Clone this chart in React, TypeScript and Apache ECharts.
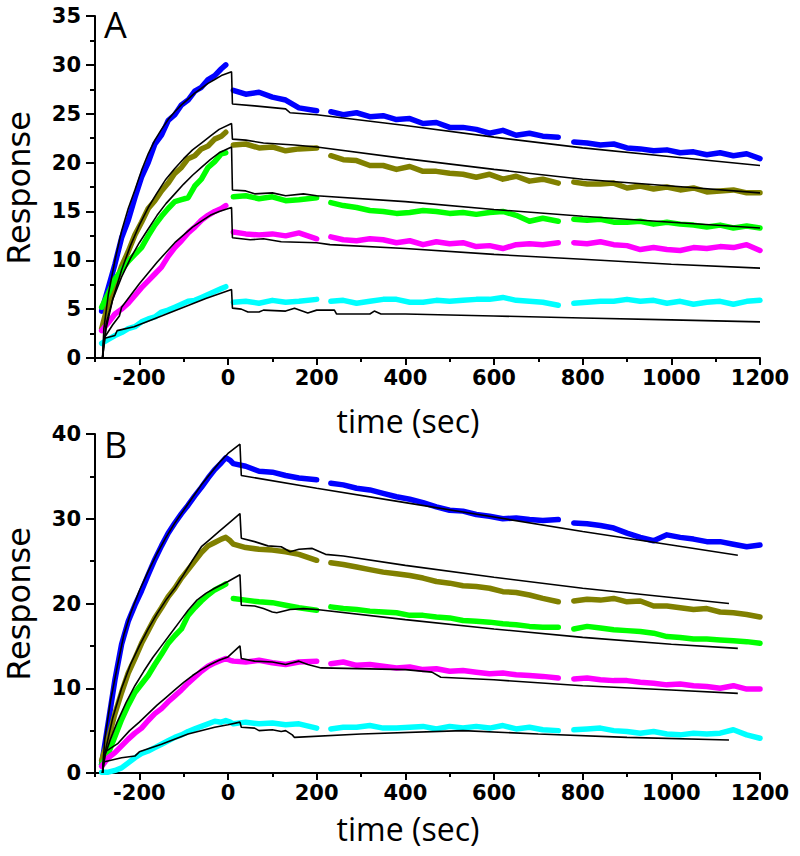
import React, { useEffect, useRef } from "react";
import * as echarts from "echarts";

// ---------- shared sample times (s); null values mark gaps in the recording ----------
const TIMES = [
  -285, -270, -255, -240, -225, -210, -195, -180, -165, -150, -135, -120, -105, -90, -75, -60, -45, -30, -15, -5,
  5,
  12, 40, 70, 100, 130, 160, 200,
  215,
  232, 260, 290, 320, 350, 380, 410, 440, 470, 500, 530, 560, 590, 620, 650, 680, 710, 745,
  762,
  780, 810, 840, 870, 900, 930, 960, 990, 1020, 1050, 1080, 1110, 1140, 1170, 1200,
];

// ---------- Panel A measured responses ----------
const blueA = [4.8, 7.2, 9.6, 12.3, 14.1, 16.4, 18.5, 20.0, 21.9, 22.8, 24.3, 24.9, 25.9, 26.4, 27.3, 27.7, 28.5, 28.9, 29.6, 30.0, null,
  27.4, 27.0, 27.2, 26.7, 26.4, 25.6, 25.3, null,
  25.2, 24.9, 25.1, 24.7, 24.8, 24.4, 24.5, 24.0, 24.1, 23.6, 23.6, 23.4, 23.0, 23.3, 22.8, 23.0, 22.7, 22.6, null,
  22.1, 22.0, 21.8, 21.9, 21.5, 21.4, 21.2, 21.3, 21.0, 21.1, 20.8, 21.0, 20.7, 20.9, 20.4];
const oliveA = [3.0, 5.6, 7.4, 9.4, 10.9, 12.6, 13.9, 15.3, 16.1, 17.1, 17.9, 18.9, 19.5, 20.4, 20.7, 21.4, 21.7, 22.4, 22.7, 23.1, null,
  21.8, 21.9, 21.5, 21.6, 21.2, 21.4, 21.5, null,
  20.7, 20.3, 20.2, 19.7, 19.7, 19.3, 19.6, 19.1, 19.1, 18.9, 18.8, 18.5, 18.8, 18.3, 18.6, 18.1, 18.3, 17.9, null,
  18.0, 17.8, 17.8, 17.9, 17.4, 17.6, 17.3, 17.5, 17.2, 17.4, 17.0, 17.1, 17.2, 16.9, 16.9];
const greenA = [5.2, 6.6, 8.1, 9.0, 9.9, 10.6, 11.3, 12.5, 13.6, 14.5, 15.3, 16.0, 16.2, 16.4, 17.6, 18.3, 19.5, 20.1, 20.9, 21.0, null,
  16.5, 16.6, 16.3, 16.5, 16.1, 16.2, 16.4, null,
  15.9, 15.6, 15.4, 15.1, 15.0, 14.8, 14.9, 15.1, 15.0, 14.8, 14.9, 14.7, 14.9, 15.0, 14.6, 14.0, 14.3, 14.0, null,
  14.2, 14.1, 14.2, 13.9, 13.9, 14.0, 13.7, 13.9, 13.7, 13.6, 13.4, 13.6, 13.3, 13.5, 13.3];
const magentaA = [2.8, 3.6, 4.5, 5.0, 5.6, 6.4, 7.2, 7.9, 8.6, 9.3, 10.4, 11.3, 12.0, 12.8, 13.4, 14.1, 14.6, 15.0, 15.3, 15.6, null,
  12.9, 12.7, 12.6, 12.7, 12.5, 12.8, 12.2, null,
  12.4, 12.1, 12.0, 12.2, 12.1, 11.8, 12.0, 11.6, 11.9, 11.7, 11.8, 11.4, 11.5, 11.2, 11.6, 11.7, 11.6, 11.8, null,
  11.8, 11.7, 11.9, 11.6, 11.5, 11.1, 11.3, 11.1, 11.0, 11.3, 11.2, 11.4, 11.3, 11.6, 11.0];
const cyanA = [1.5, 1.9, 2.3, 2.6, 3.0, 3.2, 3.7, 4.0, 4.2, 4.7, 4.9, 5.2, 5.5, 5.8, 5.9, 6.2, 6.5, 6.8, 7.1, 7.3, null,
  5.7, 5.8, 5.6, 5.9, 5.7, 5.8, 6.0, null,
  5.8, 5.9, 5.6, 5.8, 6.0, 6.0, 5.7, 5.7, 5.9, 5.8, 5.9, 6.0, 6.0, 6.2, 5.9, 5.8, 5.7, 5.4, null,
  5.6, 5.7, 5.8, 5.8, 6.0, 5.8, 5.9, 5.6, 5.8, 5.5, 5.7, 5.8, 5.5, 5.8, 5.9];

// ---------- Panel B measured responses ----------
const blueB = [1.0, 6.0, 11.0, 15.2, 17.9, 19.8, 21.5, 23.4, 25.2, 26.8, 28.3, 29.5, 30.6, 31.6, 32.7, 33.7, 34.8, 35.8, 36.6, 37.2, 36.9,
  36.5, 36.2, 35.6, 35.5, 35.1, 34.8, 34.6, null,
  34.2, 34.0, 33.6, 33.4, 33.0, 32.6, 32.3, 31.9, 31.4, 31.0, 30.9, 30.5, 30.3, 30.0, 30.1, 29.9, 29.8, 29.9, null,
  29.5, 29.4, 29.2, 28.9, 28.3, 27.8, 27.4, 28.1, 27.8, 27.6, 27.3, 27.3, 27.0, 26.7, 26.9];
const oliveB = [1.5, 4.0, 7.0, 9.5, 11.8, 13.5, 15.3, 16.8, 18.3, 19.5, 20.8, 21.8, 23.0, 24.0, 25.0, 26.0, 26.8, 27.2, 27.6, 27.8, 27.4,
  27.0, 26.6, 26.4, 26.3, 26.1, 25.8, 25.1, null,
  24.8, 24.6, 24.3, 24.0, 23.7, 23.5, 23.3, 23.0, 22.6, 22.4, 22.1, 22.0, 21.8, 21.4, 21.3, 21.0, 20.6, 20.2, null,
  20.3, 20.5, 20.4, 20.6, 20.2, 20.3, 19.7, 19.7, 19.5, 19.3, 19.4, 19.0, 18.9, 18.7, 18.4];
const greenB = [1.0, 2.3, 4.3, 6.3, 8.0, 9.5, 10.5, 11.5, 12.8, 14.0, 15.3, 16.2, 17.0, 18.6, 19.5, 20.3, 21.0, 21.6, 22.0, 22.3, null,
  20.6, 20.4, 20.2, 20.1, 19.8, 19.5, 19.2, null,
  19.6, 19.4, 19.3, 19.1, 19.0, 18.9, 18.6, 18.6, 18.4, 18.3, 18.0, 17.9, 17.8, 17.6, 17.5, 17.3, 17.2, 17.2, null,
  17.0, 17.3, 17.1, 16.9, 16.8, 16.7, 16.5, 16.1, 16.0, 15.8, 15.8, 15.7, 15.6, 15.5, 15.3];
const magentaB = [0.8, 1.8, 2.4, 3.2, 4.0, 4.7, 5.3, 6.2, 7.0, 7.6, 8.4, 9.1, 9.8, 10.6, 11.3, 12.0, 12.6, 13.0, 13.3, 13.5, 13.3,
  13.2, 13.1, 13.3, 13.0, 12.8, 13.1, 13.2, null,
  12.9, 13.1, 12.7, 12.8, 12.6, 12.4, 12.5, 12.2, 12.3, 12.0, 12.1, 11.9, 11.7, 11.8, 11.6, 11.5, 11.4, 11.2, null,
  11.1, 11.2, 11.0, 10.9, 10.9, 10.7, 10.6, 10.4, 10.5, 10.3, 10.2, 10.0, 10.3, 9.9, 9.9];
const cyanB = [0.1, 0.1, 0.3, 0.6, 1.2, 1.8, 2.3, 2.6, 3.0, 3.4, 3.8, 4.2, 4.5, 4.9, 5.2, 5.5, 5.8, 6.1, 6.0, 6.2, 6.0,
  5.8, 6.0, 5.8, 5.9, 5.7, 5.8, 5.3, null,
  5.2, 5.4, 5.4, 5.6, 5.3, 5.3, 5.4, 5.5, 5.2, 5.5, 5.3, 5.5, 5.3, 5.6, 5.2, 5.4, 5.1, 5.0, null,
  5.1, 5.2, 5.3, 5.0, 4.9, 4.7, 4.9, 4.6, 4.5, 4.7, 4.6, 4.7, 5.1, 4.5, 4.1];

// ---------- fitted curves [time, response] ----------
const fitBlueA = [[-283, 0], [-280, 3], [-270, 6.5], [-255, 10], [-240, 13], [-225, 15.3], [-210, 17.2], [-195, 19.2], [-180, 20.9], [-165, 22.3], [-150, 23.4], [-135, 24.4], [-120, 25.2], [-105, 25.9], [-90, 26.5], [-75, 27.1], [-60, 27.6], [-45, 28.1], [-30, 28.5], [-15, 28.9], [8, 29.3], [10, 26.0], [60, 25.8], [130, 25.5], [140, 25.1], [200, 24.9], [400, 23.8], [600, 22.6], [800, 21.5], [1000, 20.6], [1200, 19.7]];
const fitOliveA = [[-283, 0], [-275, 3], [-260, 6], [-240, 9], [-220, 11.5], [-200, 13.6], [-180, 15.4], [-160, 16.9], [-140, 18.3], [-120, 19.4], [-100, 20.4], [-80, 21.3], [-60, 22.0], [-40, 22.7], [-20, 23.4], [8, 24.0], [10, 22.4], [40, 22.3], [80, 22.0], [150, 21.8], [200, 21.6], [400, 20.4], [600, 19.3], [800, 18.3], [1000, 17.6], [1200, 16.9]];
const fitGreenA = [[-283, 0], [-275, 3.5], [-260, 6], [-240, 8.3], [-220, 10.2], [-200, 11.8], [-180, 13.2], [-160, 14.6], [-140, 15.8], [-120, 16.8], [-100, 17.8], [-80, 18.7], [-60, 19.5], [-40, 20.3], [-20, 21.0], [8, 21.6], [10, 17.2], [40, 17.1], [60, 16.8], [100, 16.9], [130, 16.6], [170, 16.8], [200, 16.6], [400, 16.0], [600, 15.2], [800, 14.5], [1000, 13.9], [1200, 13.3]];
const fitMagentaA = [[-283, 0], [-280, 2], [-260, 3.4], [-245, 4.3], [-240, 5.2], [-220, 6.4], [-200, 7.6], [-180, 8.7], [-160, 9.8], [-140, 10.8], [-120, 11.8], [-100, 12.6], [-80, 13.4], [-60, 14.0], [-40, 14.6], [-20, 15.0], [8, 15.4], [10, 12.3], [50, 12.1], [80, 12.2], [120, 11.9], [200, 11.8], [230, 11.6], [400, 11.2], [600, 10.6], [800, 10.1], [1000, 9.6], [1200, 9.2]];
const fitCyanA = [[-283, 0], [-280, 2.0], [-255, 2.3], [-250, 2.8], [-212, 3.2], [-150, 4.3], [-100, 5.2], [-50, 6.1], [8, 7.0], [10, 5.1], [30, 5.0], [45, 4.7], [70, 4.7], [80, 4.9], [130, 4.8], [150, 5.1], [180, 4.6], [200, 4.9], [240, 4.9], [245, 4.5], [320, 4.5], [330, 4.8], [345, 4.5], [400, 4.5], [600, 4.3], [800, 4.1], [1000, 3.9], [1200, 3.7]];

const fitBlueB = [[-283, 0], [-278, 4], [-265, 8.5], [-250, 12.5], [-235, 16.3], [-220, 18.8], [-200, 21.5], [-180, 23.8], [-160, 25.9], [-140, 27.8], [-120, 29.5], [-100, 31.0], [-80, 32.5], [-60, 34.0], [-40, 35.3], [-20, 36.6], [0, 37.7], [27, 38.8], [30, 35.1], [200, 33.6], [400, 31.9], [600, 30.2], [800, 28.5], [1000, 26.9], [1150, 25.7]];
const fitOliveB = [[-283, 0], [-275, 3], [-260, 6.5], [-240, 10], [-220, 12.8], [-200, 15.0], [-180, 17.0], [-160, 18.8], [-140, 20.4], [-120, 21.8], [-100, 23.4], [-80, 25.1], [-60, 26.7], [-40, 27.6], [-20, 28.5], [0, 29.4], [27, 30.6], [30, 27.7], [60, 27.3], [90, 26.8], [120, 26.7], [140, 26.1], [160, 26.4], [190, 26.5], [220, 25.8], [260, 25.6], [400, 24.5], [600, 23.1], [800, 21.8], [1000, 20.7], [1130, 20.0]];
const fitGreenB = [[-283, 0], [-278, 2], [-265, 4], [-250, 6], [-230, 8.3], [-210, 10.3], [-190, 12.0], [-170, 13.6], [-150, 15.0], [-130, 16.4], [-110, 17.8], [-90, 19.2], [-70, 20.4], [-50, 21.2], [-30, 21.8], [0, 22.6], [27, 23.4], [30, 19.8], [60, 19.7], [80, 19.4], [100, 19.0], [110, 18.9], [140, 19.3], [170, 19.4], [200, 19.3], [400, 18.1], [600, 17.0], [800, 16.0], [1000, 15.2], [1150, 14.7]];
const fitMagentaB = [[-283, 0], [-280, 2.4], [-248, 3.5], [-222, 5.0], [-200, 6.0], [-180, 7.0], [-160, 8.0], [-140, 8.9], [-120, 9.8], [-100, 10.7], [-80, 11.5], [-60, 12.2], [-40, 12.8], [-20, 13.3], [0, 13.7], [27, 15.0], [30, 13.5], [60, 13.2], [100, 13.1], [130, 12.8], [160, 13.2], [180, 12.8], [210, 12.4], [400, 12.2], [460, 11.9], [480, 11.3], [600, 11.0], [800, 10.3], [1000, 9.8], [1150, 9.4]];
const fitCyanB = [[-283, 0], [-281, 1.3], [-240, 1.8], [-210, 2.0], [-200, 2.5], [-150, 3.4], [-90, 4.6], [-30, 5.4], [0, 5.7], [27, 6.0], [30, 5.4], [60, 5.3], [70, 5.0], [100, 5.1], [120, 4.9], [130, 5.0], [145, 4.5], [150, 4.2], [300, 4.6], [530, 5.0], [700, 4.6], [900, 4.2], [1130, 3.9]];

// ---------- axis ticks ----------
const X_MAJOR = [-200, 0, 200, 400, 600, 800, 1000, 1200];
const X_MINOR = [-300, -100, 100, 300, 500, 700, 900, 1100];
const X_TITLE = "time (sec)";
const Y_TITLE = "Response";

const COLORS = { blue: "#0000ff", olive: "#808000", green: "#00ff00", magenta: "#ff00ff", cyan: "#00ffff" };

const TICK_FONT = { fontFamily: "DejaVu Sans", fontWeight: "bold" as const, fontSize: 21, color: "#000" };

function pairs(vals: (number | null)[]) {
  return TIMES.map((t, i) => [t, vals[i] == null ? "-" : vals[i]]);
}

function xAxes(gridIndex: number) {
  return [
    {
      type: "value", gridIndex, min: -300, max: 1200, interval: 100,
      axisLine: { show: true, onZero: false, lineStyle: { color: "#000", width: 2 } },
      axisTick: { show: true, length: 7, customValues: X_MAJOR, lineStyle: { color: "#000", width: 2 } },
      axisLabel: { ...TICK_FONT, customValues: X_MAJOR, margin: 9, formatter: (v: number) => String(v) },
      splitLine: { show: false },
    },
    {
      type: "value", gridIndex, min: -300, max: 1200, position: "bottom",
      axisLine: { show: false, onZero: false },
      axisTick: { show: true, length: 4, customValues: X_MINOR, lineStyle: { color: "#000", width: 2 } },
      axisLabel: { show: false },
      splitLine: { show: false },
    },
  ];
}

function yAxis(gridIndex: number, max: number, interval: number) {
  return {
    type: "value", gridIndex, min: 0, max, interval,
    axisLine: { show: true, onZero: false, lineStyle: { color: "#000", width: 2 } },
    axisTick: { show: true, length: 9, lineStyle: { color: "#000", width: 2 } },
    minorTick: { show: true, splitNumber: 2, length: 5, lineStyle: { color: "#000", width: 2 } },
    axisLabel: { ...TICK_FONT, margin: 14, formatter: (v: number) => String(v) },
    splitLine: { show: false },
    minorSplitLine: { show: false },
  };
}

function dataSeries(vals: (number | null)[], color: string, xi: number, yi: number) {
  return {
    type: "line", xAxisIndex: xi, yAxisIndex: yi, data: pairs(vals), showSymbol: false,
    connectNulls: false, z: 2,
    lineStyle: { color, width: 5.5, cap: "round", join: "round" },
  };
}

function fitSeries(pts: number[][], xi: number, yi: number) {
  return {
    type: "line", xAxisIndex: xi, yAxisIndex: yi, data: pts, showSymbol: false, z: 3,
    lineStyle: { color: "#000", width: 1.6 },
  };
}

export default function App() {
  const ref = useRef<HTMLDivElement>(null);
  useEffect(() => {
    if (!ref.current) return;
    const chart = echarts.init(ref.current, undefined, { renderer: "svg" });
    const titleFont = { fontFamily: "Open Sans", fontSize: 32, fill: "#000" };
    const letterFont = { fontFamily: "Open Sans", fontSize: 36, fill: "#000", align: "left", verticalAlign: "middle" };
    const yTitleFont = { fontFamily: "DejaVu Sans", fontSize: 32, fill: "#000", align: "center", verticalAlign: "middle" };
    chart.setOption({
      animation: false,
      backgroundColor: "#fff",
      grid: [
        { left: 95, top: 16, width: 665, height: 342 },
        { left: 95, top: 434, width: 665, height: 339 },
      ],
      xAxis: [...xAxes(0), ...xAxes(1)],
      yAxis: [yAxis(0, 35, 5), yAxis(1, 40, 10)],
      series: [
        dataSeries(blueA, COLORS.blue, 0, 0),
        dataSeries(oliveA, COLORS.olive, 0, 0),
        dataSeries(greenA, COLORS.green, 0, 0),
        dataSeries(magentaA, COLORS.magenta, 0, 0),
        dataSeries(cyanA, COLORS.cyan, 0, 0),
        fitSeries(fitBlueA, 0, 0),
        fitSeries(fitOliveA, 0, 0),
        fitSeries(fitGreenA, 0, 0),
        fitSeries(fitMagentaA, 0, 0),
        fitSeries(fitCyanA, 0, 0),
        dataSeries(blueB, COLORS.blue, 2, 1),
        dataSeries(oliveB, COLORS.olive, 2, 1),
        dataSeries(greenB, COLORS.green, 2, 1),
        dataSeries(magentaB, COLORS.magenta, 2, 1),
        dataSeries(cyanB, COLORS.cyan, 2, 1),
        fitSeries(fitBlueB, 2, 1),
        fitSeries(fitOliveB, 2, 1),
        fitSeries(fitGreenB, 2, 1),
        fitSeries(fitMagentaB, 2, 1),
        fitSeries(fitCyanB, 2, 1),
      ],
      graphic: [
        { type: "text", x: 104, y: 24, style: { text: "A", ...letterFont } },
        { type: "text", x: 104, y: 444, style: { text: "B", ...letterFont } },
        { type: "text", x: 19, y: 188, rotation: Math.PI / 2, style: { text: Y_TITLE, ...yTitleFont } },
        { type: "text", x: 19, y: 604, rotation: Math.PI / 2, style: { text: Y_TITLE, ...yTitleFont } },
        { type: "text", x: 408, y: 420, style: { text: X_TITLE, ...titleFont, align: "center", verticalAlign: "middle" } },
        { type: "text", x: 408, y: 828, style: { text: X_TITLE, ...titleFont, align: "center", verticalAlign: "middle" } },
      ],
    });
    return () => chart.dispose();
  }, []);
  return <div ref={ref} style={{ position: "absolute", left: 0, top: 0, width: 800, height: 856 }} />;
}
